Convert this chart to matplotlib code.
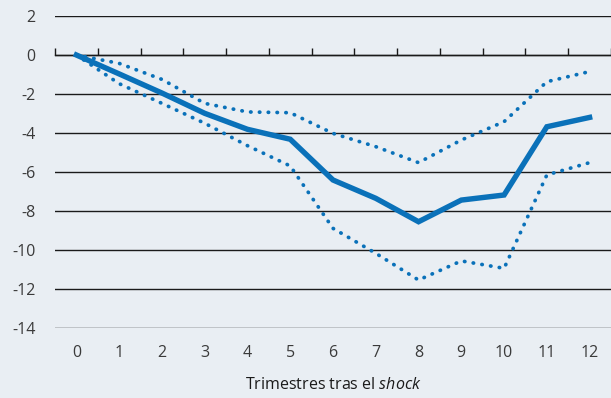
import matplotlib.pyplot as plt
import numpy as np

# impulse response after the shock (quarters 0..12)
quarters = list(range(13))
central = [0, -0.97, -1.95, -2.99, -3.81, -4.32, -6.41, -7.35, -8.55, -7.44, -7.18, -3.68, -3.2]
upper = [0, -0.43, -1.25, -2.48, -2.92, -2.96, -4.02, -4.7, -5.52, -4.36, -3.42, -1.37, -0.85]
lower = [0, -1.47, -2.48, -3.5, -4.65, -5.69, -8.89, -10.17, -11.54, -10.56, -10.94, -6.15, -5.52]
yticks = [2, 0, -2, -4, -6, -8, -10, -12, -14]

blue = '#0a71b9'
bg = '#e9eef3'

plt.rcParams['font.family'] = ['Open Sans', 'DejaVu Sans']
plt.rcParams['axes.unicode_minus'] = False
plt.rcParams['mathtext.fontset'] = 'custom'
plt.rcParams['mathtext.rm'] = 'Open Sans'
plt.rcParams['mathtext.it'] = 'Open Sans:italic'

fig = plt.figure(figsize=(6.11, 3.98), dpi=100, facecolor=bg)
ax = fig.add_axes([55/611, 70/398, 556/611, 312/398], facecolor=bg)

ax.plot(quarters, upper, color=blue, lw=2.7, linestyle=(0, (0.1, 2.25)),
        dash_capstyle='round', zorder=3)
ax.plot(quarters, lower, color=blue, lw=2.7, linestyle=(0, (0.1, 2.25)),
        dash_capstyle='round', zorder=3)
ax.plot(quarters, central, color=blue, lw=3.9, solid_joinstyle='miter', zorder=4)

ax.set_xlim(-0.5, 12.5)
ax.set_ylim(-14, 2)
ax.set_yticks(yticks)
ax.set_xticks(quarters)
ax.set_xticks(np.arange(-0.5, 13, 1), minor=True)

# zero line with upward tick marks
for s in ['left', 'right', 'bottom']:
    ax.spines[s].set_visible(False)
ax.spines['top'].set_position(('data', 0))
ax.spines['top'].set_color('#1a1a1a')
ax.spines['top'].set_linewidth(1.0)

ax.tick_params(axis='x', which='major', length=0, pad=12, labelsize=11.5,
               labelcolor='#3a3a3a', top=False, bottom=True)
ax.tick_params(axis='x', which='minor', length=5, width=1.0, color='#1a1a1a',
               top=True, bottom=False, direction='out')
ax.tick_params(axis='y', length=0, pad=14, labelsize=11.5, labelcolor='#3a3a3a')

ax.grid(axis='y', color='#1a1a1a', lw=1.0)
ax.set_axisbelow(True)

ax.set_xlabel(r'Trimestres tras el $\mathit{shock}$', fontsize=11.5,
              color='#1a1a1a', labelpad=12)

fig.savefig('out.png', dpi=100, facecolor=bg)
